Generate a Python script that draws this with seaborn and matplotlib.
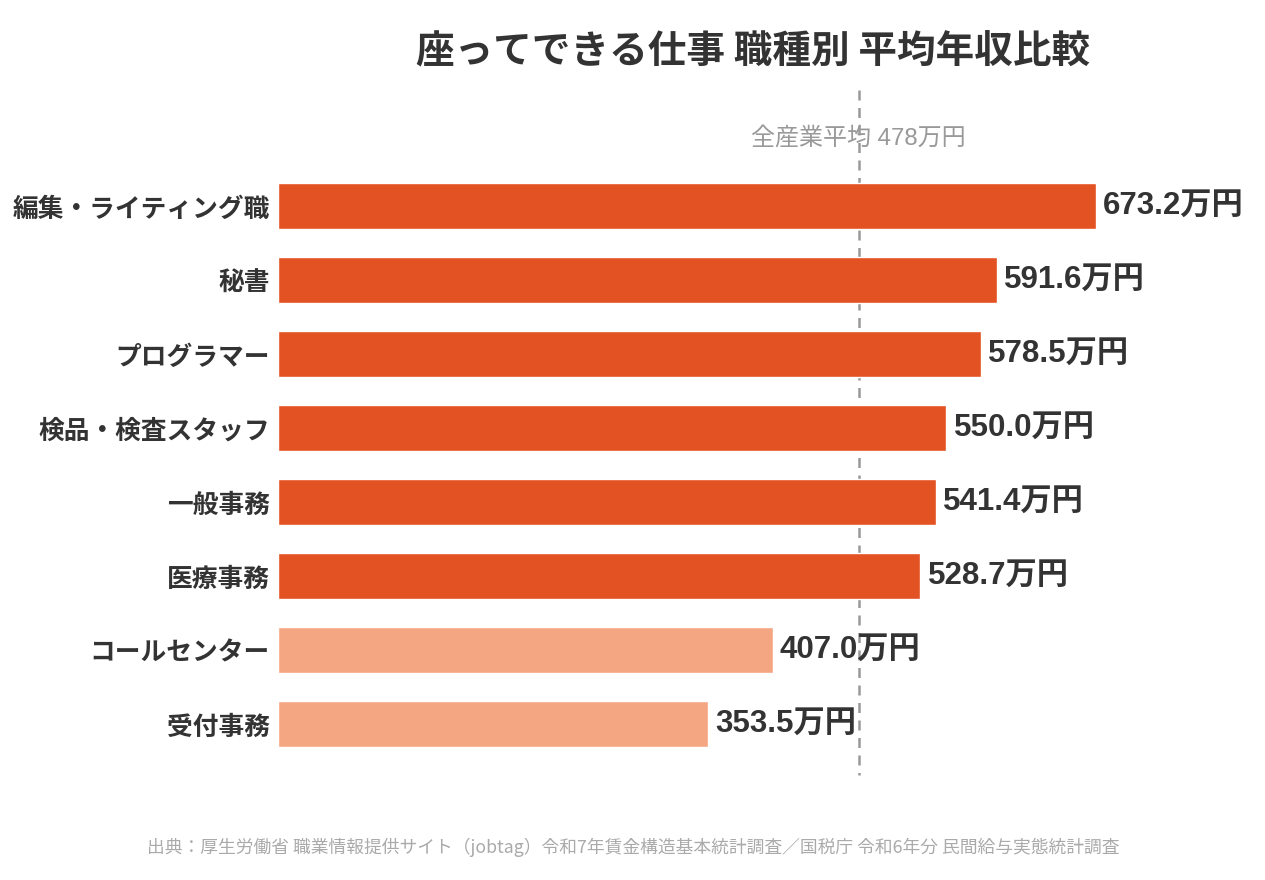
import matplotlib
matplotlib.use("Agg")
import matplotlib.pyplot as plt
import seaborn as sns
import pandas as pd

# data
jobs = ["編集・ライティング職", "秘書", "プログラマー", "検品・検査スタッフ",
        "一般事務", "医療事務", "コールセンター", "受付事務"]
salary = [673.2, 591.6, 578.5, 550.0, 541.4, 528.7, 407.0, 353.5]
average = 478
title = "座ってできる仕事 職種別 平均年収比較"
source = ("出典：厚生労働省 職業情報提供サイト（jobtag）令和7年賃金構造基本統計調査／"
          "国税庁 令和6年分 民間給与実態統計調査")

sns.set_theme(style="white")
plt.rcParams['font.family'] = ['Noto Sans CJK JP', 'DejaVu Sans']
latin_cjk = ['Liberation Sans', 'Noto Sans CJK JP']

df = pd.DataFrame({"job": jobs, "salary": salary})
df["group"] = ["above" if v > average else "below" for v in salary]
colors = {"above": "#E35222", "below": "#F4A683"}

fig = plt.figure(figsize=(12.65, 8.8), dpi=100)
ax = fig.add_axes([278 / 1265, 1 - 780 / 880, 972 / 1265, 695 / 880])

sns.barplot(data=df, x="salary", y="job", hue="group", palette=colors,
            dodge=False, width=0.62, legend=False, ax=ax, saturation=1)

ax.set_xlim(0, 800)
ax.set_ylim(7.757, -1.635)

# average line
ax.vlines(average, -1.57, 7.69, colors="#999999", linestyles=(0, (4, 3)),
          linewidth=1.8, zorder=0.5)
ax.text(average, -0.9, f"全産業平均 {average}万円", ha="center", va="center",
        fontsize=17.3, color="#999999", family=latin_cjk)

for i, v in enumerate(salary):
    ax.text(v + 6, i, f"{v:.1f}万円", va="center", ha="left",
            fontsize=22.5, fontweight="bold", color="#333333", family=latin_cjk)

ax.set_yticks(range(len(jobs)))
ax.set_yticklabels(jobs, fontsize=18.5, fontweight="bold", color="#333333")
ax.tick_params(axis="y", length=0, pad=6)
ax.set_xticks([])
ax.set_xlabel("")
ax.set_ylabel("")
for s in ax.spines.values():
    s.set_visible(False)

fig.text(753 / 1265, 1 - 52 / 880, title, ha="center", va="center",
         fontsize=27.8, fontweight="bold", color="#333333")
fig.text(633 / 1265, 1 - 847 / 880, source, ha="center", va="center",
         fontsize=12.8, color="#aaaaaa")

fig.savefig("out.png", dpi=100, facecolor="white")
